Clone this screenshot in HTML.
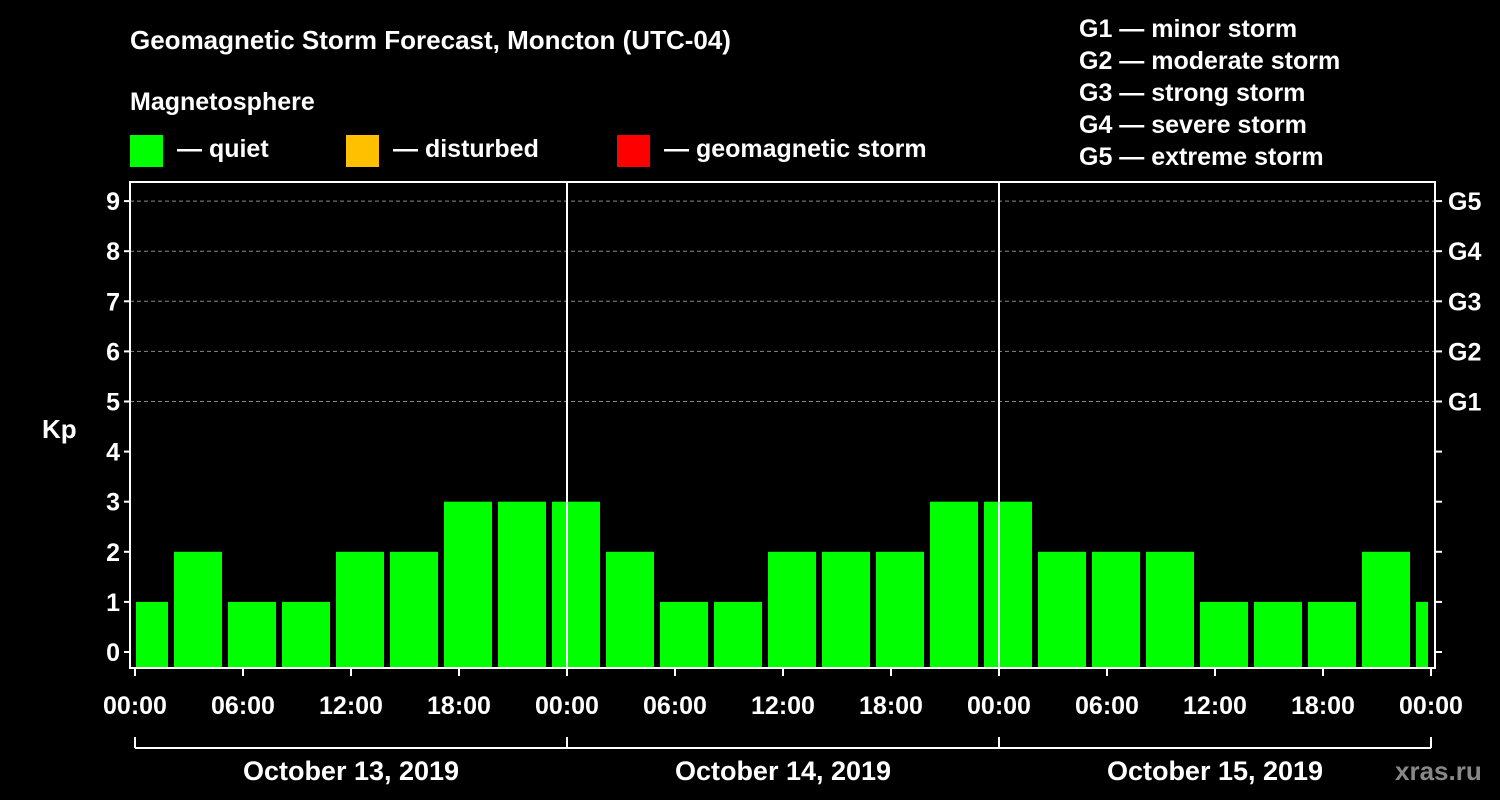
<!DOCTYPE html>
<html><head><meta charset="utf-8">
<style>
html,body{margin:0;padding:0;background:#000;}
svg{display:block;font-family:"Liberation Sans",Arial,sans-serif;font-weight:bold;}
</style></head>
<body>
<svg id="chart" width="1500" height="800" viewBox="0 0 1500 800" xmlns="http://www.w3.org/2000/svg">
<rect x="0" y="0" width="1500" height="800" fill="#000"/>
<text x="130" y="49" fill="#fff" font-size="26">Geomagnetic Storm Forecast, Moncton (UTC-04)</text>
<text x="130" y="110" fill="#fff" font-size="25">Magnetosphere</text>
<g><rect x="130" y="135" width="33" height="32" fill="#00ff00"/><text x="177" y="157" fill="#fff" font-size="25">— quiet</text></g>
<g><rect x="346" y="135" width="33" height="32" fill="#ffc000"/><text x="393" y="157" fill="#fff" font-size="25">— disturbed</text></g>
<g><rect x="617" y="135" width="33" height="32" fill="#ff0000"/><text x="664" y="157" fill="#fff" font-size="25">— geomagnetic storm</text></g>
<g fill="#fff" font-size="25">
<text x="1079" y="37">G1 — minor storm</text>
<text x="1079" y="69">G2 — moderate storm</text>
<text x="1079" y="101">G3 — strong storm</text>
<text x="1079" y="133">G4 — severe storm</text>
<text x="1079" y="165">G5 — extreme storm</text>
</g>
<text x="42" y="438" fill="#fff" font-size="26">Kp</text>
<g id="grid"></g>
<g id="bars"></g>
<g id="axes"></g>
<text x="1395" y="780" fill="#888" font-size="26">xras.ru</text>
</svg>
<script>
const kpValues = [1,2,1,1,2,2,3,3,3,2,1,1,2,2,2,3,3,2,2,2,1,1,1,2,1];
const barStartHours = -1; // first UTC slot begins at local -01:00
const yTicks = [0,1,2,3,4,5,6,7,8,9];
const gLabels = ["G1","G2","G3","G4","G5"];
const xTickLabels = ["00:00","06:00","12:00","18:00","00:00","06:00","12:00","18:00","00:00","06:00","12:00","18:00","00:00"];
const dateLabels = ["October 13, 2019","October 14, 2019","October 15, 2019"];

const NS="http://www.w3.org/2000/svg";
const PL=130, PR=1435, PT=182, PB=668;
const X0=135, HPX=18;
const xScale = h => X0 + h*HPX;
const yScale = k => 652 - 50.1*k;
function mk(tag, attrs, parent){const e=document.createElementNS(NS,tag);for(const k in attrs)e.setAttribute(k,attrs[k]);parent.appendChild(e);return e;}
const grid=document.getElementById('grid'), bars=document.getElementById('bars'), axes=document.getElementById('axes');

// gridlines at G levels
for(let k=5;k<=9;k++){
  const l=mk('line',{x1:PL,x2:PR,y1:yScale(k),y2:yScale(k),stroke:'#888','stroke-dasharray':'4,3','stroke-width':1},grid);
  
  
}
// bars
const xMax = xScale(72);
kpValues.forEach((v,i)=>{
  const h0 = barStartHours + i*3;
  let x1 = xScale(h0)+3, x2 = xScale(h0+3)-3;
  if(x1<X0+1) x1=X0+1;
  if(x2>xMax-3) x2=xMax-3;
  const top=yScale(v);
  const r=mk('rect',{x:x1,y:top,width:Math.max(0,x2-x1),height:PB-top,fill:v>=5?'#ff0000':(v>=4?'#ffc000':'#00ff00')},bars);
  
  
});
// frame
const fr=mk('rect',{x:PL,y:PT,width:PR-PL,height:PB-PT,fill:'none',stroke:'#fff','stroke-width':2},axes);


// day separators
[24,48].forEach(h=>{
  const l=mk('line',{x1:xScale(h),x2:xScale(h),y1:PT,y2:PB,stroke:'#fff','stroke-width':2},axes);
  
  
});
// y ticks
yTicks.forEach(k=>{
  const y=yScale(k);
  mk('line',{x1:PL-6,x2:PL,y1:y,y2:y,stroke:'#fff','stroke-width':2},axes);
  mk('line',{x1:PR,x2:PR+7,y1:y,y2:y,stroke:'#fff','stroke-width':2},axes);
  const t=mk('text',{x:PL-10,y:y+9,fill:'#fff','font-size':25,'text-anchor':'end'},axes);
  t.textContent=k;
  
  
});
gLabels.forEach((g,i)=>{
  const t=mk('text',{x:1448,y:yScale(5+i)+9,fill:'#fff','font-size':25},axes);
  t.textContent=g;
  
  
});
// x ticks
xTickLabels.forEach((s,i)=>{
  const x=xScale(i*6);
  mk('line',{x1:x,x2:x,y1:PB,y2:PB+8,stroke:'#fff','stroke-width':2},axes);
  const t=mk('text',{x:x,y:714,fill:'#fff','font-size':25,'text-anchor':'middle'},axes);
  t.textContent=s;
  
  
});
// date bracket
const bl=mk('line',{x1:xScale(0),x2:xScale(72),y1:748,y2:748,stroke:'#fff','stroke-width':2},axes);


[0,24,48,72].forEach(h=>mk('line',{x1:xScale(h),x2:xScale(h),y1:737,y2:748,stroke:'#fff','stroke-width':2},axes));
dateLabels.forEach((d,i)=>{
  const t=mk('text',{x:xScale(i*24+12),y:780,fill:'#fff','font-size':27,'text-anchor':'middle'},axes);
  t.textContent=d;
  
  
});
</script>
</body></html>
